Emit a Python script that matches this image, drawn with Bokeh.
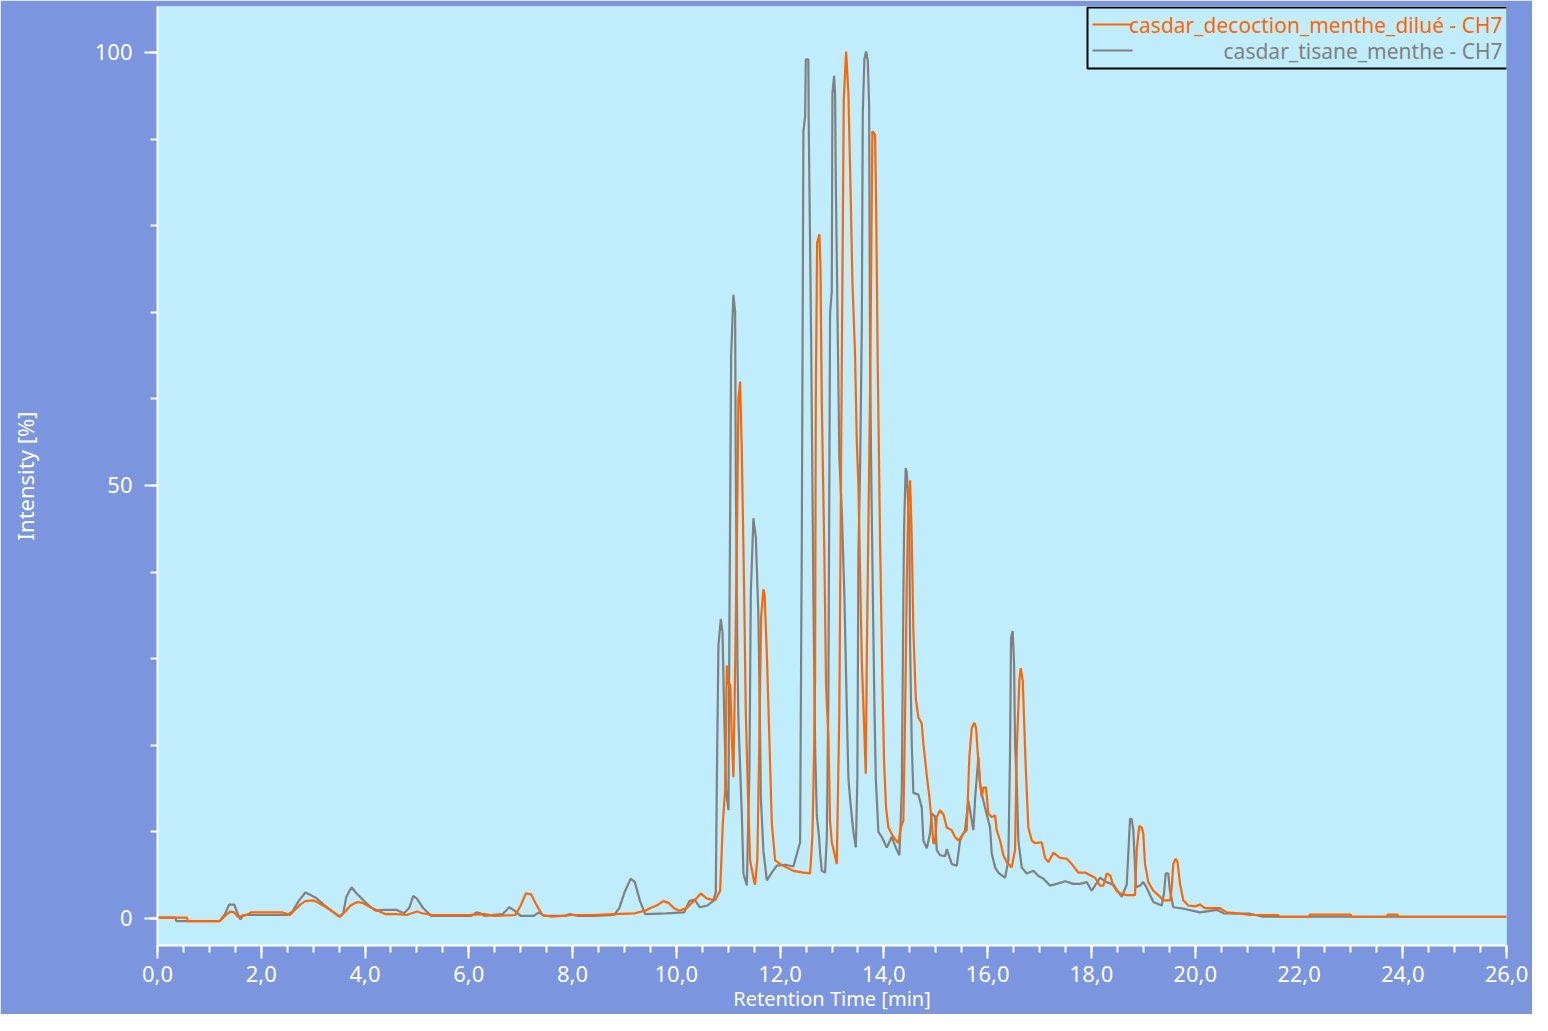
from bokeh.plotting import figure
from bokeh.models import Range1d, FixedTicker, Label, BoxAnnotation
from bokeh.embed import file_html
from bokeh.resources import INLINE
import numpy as np

# ---------------- data ----------------
series_names = ["casdar_decoction_menthe_dilué - CH7", "casdar_tisane_menthe - CH7"]
series_colors = ["#FF6600", "#808080"]

x_ticks = [0, 2, 4, 6, 8, 10, 12, 14, 16, 18, 20, 22, 24, 26]
x_tick_labels = ["0,0", "2,0", "4,0", "6,0", "8,0", "10,0", "12,0", "14,0",
                 "16,0", "18,0", "20,0", "22,0", "24,0", "26,0"]
y_ticks = [0, 50, 100]
y_tick_labels = ["0", "50", "100"]

# decoction (orange) – retention time [min]
decoction_t = [0.00, 0.57, 0.58, 1.20, 1.30, 1.40, 1.48, 1.55, 1.65, 1.75, 1.80, 2.40, 2.55, 2.65,
               2.75, 2.85, 3.00, 3.10, 3.25, 3.40, 3.52, 3.62, 3.72, 3.85, 3.95, 4.10, 4.25, 4.40,
               4.60, 4.80, 5.00, 5.10, 5.30, 5.60, 6.00, 6.30, 6.50, 6.90, 7.00, 7.10, 7.20, 7.30,
               7.42, 7.60, 8.00, 8.40, 8.80, 9.20, 9.40, 9.50, 9.62, 9.75, 9.85, 9.95, 10.05, 10.20,
               10.30, 10.40, 10.47, 10.588, 10.748, 10.844, 10.896, 10.940, 10.973, 11.004, 11.040,
               11.069, 11.100, 11.133, 11.170, 11.196, 11.229, 11.262, 11.306, 11.339, 11.378,
               11.422, 11.500, 11.518, 11.562, 11.601, 11.634, 11.678, 11.700, 11.744, 11.788,
               11.840, 11.904, 12.000, 12.120, 12.256, 12.449, 12.578, 12.622, 12.655, 12.674,
               12.688, 12.713, 12.757, 12.777, 12.804, 12.854, 12.886, 12.931, 12.963, 12.996,
               13.046, 13.092, 13.142, 13.189, 13.227, 13.272, 13.316, 13.362, 13.393, 13.445,
               13.478, 13.509, 13.574, 13.618, 13.651, 13.671, 13.734, 13.778, 13.830, 13.850,
               13.882, 13.927, 13.971, 14.004, 14.042, 14.087, 14.183, 14.279, 14.326, 14.376,
               14.408, 14.441, 14.472, 14.505, 14.537, 14.568, 14.615, 14.665, 14.730, 14.761,
               14.827, 14.877, 14.923, 14.954, 14.987, 15.019, 15.083, 15.150, 15.212, 15.308,
               15.372, 15.435, 15.532, 15.597, 15.647, 15.694, 15.744, 15.777, 15.802, 15.854,
               15.886, 15.917, 15.969, 16.013, 16.079, 16.143, 16.175, 16.239, 16.303, 16.368,
               16.463, 16.528, 16.561, 16.611, 16.638, 16.676, 16.701, 16.734, 16.784, 16.850,
               16.913, 17.042, 17.106, 17.170, 17.266, 17.395, 17.524, 17.620, 17.748, 17.876,
               18.069, 18.166, 18.230, 18.295, 18.360, 18.422, 18.487, 18.551, 18.680, 18.840,
               18.873, 18.923, 18.970, 19.000, 19.033, 19.096, 19.193, 19.289, 19.385, 19.520,
               19.548, 19.578, 19.624, 19.660, 19.707, 19.771, 19.867, 20.000, 20.093, 20.189,
               20.400, 20.478, 20.607, 20.800, 21.056, 21.600, 21.620, 22.200, 22.210, 23.000,
               23.010, 23.700, 23.710, 23.900, 23.910, 26.000]
# decoction (orange) – intensity [%]
decoction_v = [0.1, 0.1, -0.3, -0.3, 0.3, 0.8, 0.7, 0.2, 0.3, 0.5, 0.7, 0.7, 0.4, 1.0,
               1.6, 2.0, 2.1, 1.8, 1.3, 0.7, 0.2, 0.8, 1.5, 1.9, 1.8, 1.3, 0.9, 0.5,
               0.5, 0.4, 0.8, 0.6, 0.4, 0.4, 0.4, 0.5, 0.3, 0.4, 1.5, 2.9, 2.8, 1.6,
               0.4, 0.2, 0.4, 0.4, 0.5, 0.6, 0.9, 1.2, 1.5, 2.0, 1.8, 1.2, 0.9, 1.2,
               1.8, 2.4, 2.9, 2.3, 2.1, 3.2, 11.0, 14.8, 29.2, 27.1, 27.0,
               20.9, 16.3, 29.0, 45.0, 60.0, 62.0, 53.8, 38.0, 23.7, 14.8,
               6.7, 4.2, 3.9, 7.0, 21.3, 34.8, 38.0, 37.5, 30.6, 21.7,
               11.0, 6.7, 6.3, 5.9, 5.5, 5.3, 5.2, 9.4, 19.4, 28.0,
               60.0, 78.0, 79.0, 75.4, 59.4, 41.5, 26.7, 21.0, 11.2, 8.8,
               7.5, 6.3, 24.2, 64.3, 94.6, 100.1, 95.3, 83.0, 73.6, 65.0,
               55.0, 50.0, 29.8, 22.4, 16.7, 30.4, 61.0, 90.9, 90.5, 83.0,
               63.7, 43.3, 27.5, 18.0, 12.8, 10.5, 9.4, 8.7, 10.5, 11.3,
               23.2, 38.7, 48.3, 50.6, 44.0, 33.3, 25.4, 23.2, 22.5, 20.2,
               16.5, 14.0, 11.0, 8.7, 8.7, 11.7, 12.5, 12.0, 10.5, 10.2,
               9.4, 9.0, 9.8, 10.2, 18.6, 22.0, 22.6, 22.0, 19.7, 15.6,
               14.0, 15.1, 15.1, 12.1, 11.7, 11.9, 10.2, 9.0, 7.3, 6.5,
               5.9, 7.9, 19.4, 27.5, 28.9, 27.5, 23.2, 17.4, 10.5, 9.0,
               8.7, 8.8, 7.0, 6.5, 7.6, 7.0, 6.9, 6.3, 5.3, 5.3,
               4.7, 3.8, 3.8, 5.2, 5.0, 3.8, 3.2, 2.9, 2.7, 2.7,
               7.9, 10.7, 10.5, 9.8, 6.3, 4.2, 3.2, 2.7, 2.1, 2.1,
               3.6, 6.3, 6.9, 6.5, 4.0, 2.1, 1.5, 1.4, 1.6, 1.2,
               1.2, 1.2, 0.7, 0.6, 0.4, 0.4, 0.2, 0.2, 0.45, 0.45,
               0.2, 0.2, 0.45, 0.45, 0.2, 0.2]

# tisane (grey) – retention time [min]
tisane_t = [0.00, 0.35, 0.36, 1.20, 1.30, 1.38, 1.48, 1.56, 1.60, 1.65, 2.50, 2.60, 2.72, 2.85,
            2.95, 3.05, 3.20, 3.35, 3.50, 3.58, 3.64, 3.74, 3.82, 3.92, 4.05, 4.20, 4.35, 4.60,
            4.75, 4.85, 4.93, 5.00, 5.12, 5.27, 5.60, 6.05, 6.15, 6.22, 6.30, 6.65, 6.78, 6.88,
            7.00, 7.25, 7.35, 7.45, 7.85, 7.95, 8.10, 8.40, 8.80, 8.90, 9.00, 9.12, 9.20, 9.30,
            9.40, 9.80, 10.15, 10.25, 10.35, 10.45, 10.60, 10.709, 10.760, 10.780, 10.811,
            10.857, 10.890, 10.921, 10.959, 11.004, 11.023, 11.056, 11.100, 11.133, 11.146,
            11.177, 11.196, 11.262, 11.293, 11.358, 11.408, 11.435, 11.485, 11.532, 11.582,
            11.614, 11.628, 11.678, 11.744, 11.840, 11.936, 12.100, 12.256, 12.385, 12.418,
            12.449, 12.482, 12.495, 12.544, 12.550, 12.597, 12.642, 12.674, 12.707, 12.751,
            12.771, 12.804, 12.867, 12.900, 12.931, 12.963, 12.996, 13.008, 13.040, 13.060,
            13.073, 13.112, 13.142, 13.189, 13.239, 13.285, 13.316, 13.350, 13.412, 13.460,
            13.489, 13.509, 13.541, 13.574, 13.593, 13.624, 13.657, 13.690, 13.715, 13.734,
            13.753, 13.786, 13.817, 13.844, 13.894, 13.960, 14.056, 14.152, 14.249, 14.299,
            14.345, 14.376, 14.389, 14.420, 14.441, 14.491, 14.505, 14.537, 14.568, 14.665,
            14.730, 14.761, 14.827, 14.890, 14.923, 14.987, 15.019, 15.083, 15.180, 15.212,
            15.308, 15.405, 15.468, 15.564, 15.628, 15.725, 15.760, 15.821, 15.854, 15.886,
            15.950, 16.046, 16.079, 16.143, 16.206, 16.335, 16.399, 16.432, 16.451, 16.483,
            16.509, 16.528, 16.561, 16.592, 16.657, 16.753, 16.881, 16.977, 17.073, 17.202,
            17.330, 17.491, 17.651, 17.780, 17.909, 18.006, 18.166, 18.295, 18.422, 18.584,
            18.680, 18.711, 18.744, 18.775, 18.807, 18.859, 18.940, 19.000, 19.060, 19.193,
            19.354, 19.398, 19.432, 19.480, 19.514, 19.578, 19.800, 20.093, 20.414, 20.550,
            21.056, 21.300, 26.000]
# tisane (grey) – intensity [%]
tisane_v = [0.1, 0.1, -0.3, -0.3, 0.5, 1.6, 1.6, 0.3, -0.1, 0.4, 0.4, 0.8, 2.0, 3.0,
            2.7, 2.4, 1.6, 0.9, 0.2, 0.6, 2.5, 3.6, 3.0, 2.4, 1.6, 0.9, 1.0, 1.0,
            0.6, 1.2, 2.6, 2.3, 1.2, 0.3, 0.3, 0.3, 0.7, 0.6, 0.3, 0.5, 1.3, 0.9,
            0.3, 0.3, 0.7, 0.3, 0.3, 0.5, 0.3, 0.3, 0.4, 1.2, 3.0, 4.6, 4.2, 2.0,
            0.5, 0.6, 0.7, 2.0, 2.2, 1.3, 1.5, 2.0, 3.0, 15.6, 31.5,
            34.6, 33.0, 24.0, 14.8, 12.5, 34.0, 65.0, 72.0, 70.0, 51.0,
            30.0, 23.0, 12.0, 5.2, 3.8, 17.0, 37.5, 46.2, 44.0, 34.8,
            21.3, 14.0, 7.8, 4.4, 5.3, 6.1, 6.2, 6.0, 8.8, 44.0,
            90.9, 92.6, 99.2, 99.2, 92.6, 67.4, 37.2, 19.9, 11.9, 9.4,
            7.5, 5.5, 5.3, 9.4, 26.3, 69.9, 72.4, 95.2, 97.3, 95.0,
            85.3, 66.8, 53.2, 47.0, 37.2, 24.2, 16.2, 13.7, 10.0, 8.2,
            16.2, 42.1, 52.0, 68.0, 93.0, 99.2, 100.1, 99.0, 94.0, 64.3,
            53.2, 37.8, 24.8, 16.2, 10.0, 9.4, 8.2, 9.4, 7.9, 7.3,
            14.8, 37.0, 45.0, 52.0, 51.5, 45.0, 31.7, 20.2, 14.5, 14.3,
            12.8, 9.0, 8.1, 9.8, 12.1, 11.8, 7.9, 7.3, 7.2, 8.0,
            6.3, 6.1, 9.0, 10.2, 13.6, 10.2, 14.0, 18.6, 15.6, 14.4,
            12.8, 10.5, 7.5, 5.9, 5.3, 4.7, 6.7, 19.4, 32.4, 33.2,
            29.4, 20.2, 15.6, 9.0, 5.9, 5.2, 5.5, 4.9, 4.6, 3.8,
            4.0, 4.3, 4.0, 4.0, 4.2, 3.2, 4.7, 4.2, 3.9, 2.5,
            3.9, 7.5, 11.5, 11.5, 10.2, 3.6, 3.8, 4.2, 3.6, 1.9,
            1.5, 2.9, 5.2, 5.2, 3.2, 1.3, 1.1, 0.7, 1.0, 0.6,
            0.55, 0.2, 0.2]

# ---------------- figure ----------------
BLUE = "#7B96DE"
CYAN = "#C0EDFC"
FONT = "Noto Sans"

p = figure(frame_width=1349, frame_height=939,
           x_range=Range1d(0, 26), y_range=Range1d(-3.12, 105.3),
           output_backend="svg", toolbar_location=None,
           min_border_left=157, min_border_right=26, min_border_top=6, min_border_bottom=0)
p.background_fill_color = CYAN
p.border_fill_color = BLUE
p.outline_line_color = None
p.grid.visible = False

p.line(tisane_t, tisane_v, line_color=series_colors[1], line_width=2.2)
p.line(decoction_t, decoction_v, line_color=series_colors[0], line_width=2.2)

p.xaxis.ticker = FixedTicker(ticks=x_ticks, minor_ticks=list(np.arange(0, 26.01, 0.5)))
p.xaxis.major_label_overrides = {t: s for t, s in zip(x_ticks, x_tick_labels)}
p.yaxis.ticker = FixedTicker(ticks=y_ticks, minor_ticks=list(range(0, 101, 10)))
p.yaxis.major_label_overrides = {t: s for t, s in zip(y_ticks, y_tick_labels)}

p.xaxis.axis_label = "Retention Time [min]"
p.yaxis.axis_label = "Intensity [%]"

for ax in (p.xaxis[0], p.yaxis[0]):
    ax.axis_line_color = "white"
    ax.axis_line_width = 2
    ax.major_tick_line_color = "white"
    ax.major_tick_line_width = 2
    ax.minor_tick_line_color = "white"
    ax.minor_tick_line_width = 2
    ax.major_tick_in = 0
    ax.minor_tick_in = 0
    ax.major_tick_out = 13
    ax.minor_tick_out = 7
    ax.major_label_text_color = "white"
    ax.major_label_text_font = FONT
    ax.major_label_text_font_size = "22px"
    ax.axis_label_text_color = "white"
    ax.axis_label_text_font = FONT
    ax.axis_label_text_font_style = "normal"

p.xaxis.axis_label_text_font_size = "20px"
p.yaxis.axis_label_text_font_size = "22px"
p.xaxis.major_label_standoff = 7
p.xaxis.axis_label_standoff = 0
p.yaxis.major_label_standoff = 12
p.yaxis.axis_label_standoff = 52

# ---------------- legend (drawn as annotations) ----------------
p.add_layout(BoxAnnotation(left=930, right=1350, top=938, bottom=877,
                           left_units="screen", right_units="screen",
                           top_units="screen", bottom_units="screen",
                           fill_color=CYAN, fill_alpha=1.0,
                           line_color="black", line_alpha=1.0, line_width=2))
for i, (name, col) in enumerate(zip(series_names, series_colors)):
    yc = 921 - 26 * i
    p.add_layout(BoxAnnotation(left=935, right=975, top=yc + 1, bottom=yc - 1,
                               left_units="screen", right_units="screen",
                               top_units="screen", bottom_units="screen",
                               fill_color=col, fill_alpha=1.0, line_color=None))
    p.add_layout(Label(x=1345, y=yc, x_units="screen", y_units="screen", text=name,
                       text_align="right", text_baseline="middle", text_color=col,
                       text_font=FONT, text_font_size="21px"))

open("out.html", "w").write(file_html(p, INLINE))
